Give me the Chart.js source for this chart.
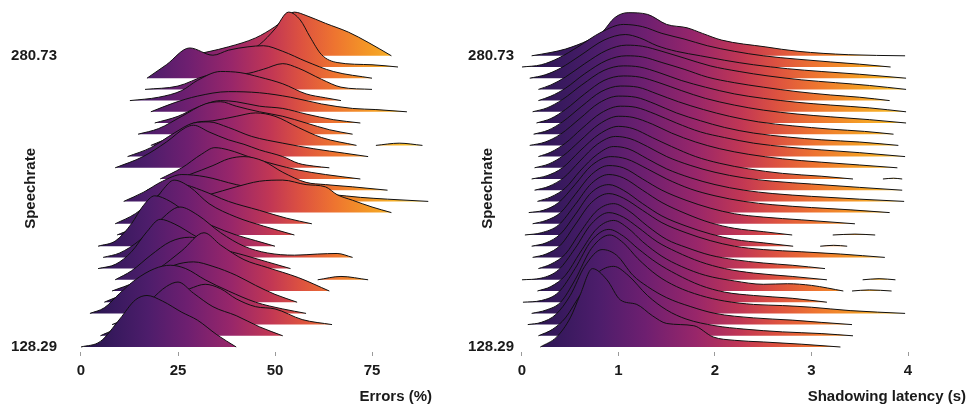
<!DOCTYPE html>
<html>
<head>
<meta charset="utf-8">
<script src="https://cdn.jsdelivr.net/npm/chart.js@4.4.1/dist/chart.umd.min.js"></script>
<style>
  html, body { margin: 0; padding: 0; background: #ffffff; }
  #wrap { position: relative; width: 969px; height: 409px; }
  #errorsChart { position: absolute; left: 0; top: 0; }
  #latencyChart { position: absolute; left: 440px; top: 0; }
</style>
</head>
<body>
<div id="wrap">
  <canvas id="errorsChart" width="440" height="409"></canvas>
  <canvas id="latencyChart" width="529" height="409"></canvas>
</div>
<script>
// speech rate labels shown at the bottom and top ridge
const speechLabels = ['128.29', '280.73'];

const errorTicks = [0, 25, 50, 75];
const latencyTicks = [0, 1, 2, 3, 4];

// Errors (%) ridges, bottom (slowest) to top. [value, density height in rows], null = gap
const errorRows = [
  [[0,0],[5,0.5],[10,2.5],[14,4.2],[17,4.6],[21,4.1],[26,3.1],[30,2.4],[35,1.1],[40,0]],
  [[5,0],[12,1.2],[18,3.2],[22,4.4],[25,4.8],[29,3.8],[34,2.6],[40,1.8],[46,0.8],[52,0]],
  [[8,0],[15,1.0],[22,2.4],[28,3.2],[32,3.6],[36,3.2],[40,2.3],[45,1.6],[50,1.4],[57,0.45],[64.7,0]],
  [[2.3,0],[6,0.5],[10,1.8],[14,3.0],[19,4.0],[23,4.3],[27,4.0],[32,3.0],[38,2.0],[45,1.0],[52,0.4],[58,0]],
  [[6,0],[12,0.9],[18,2.2],[24,3.3],[29,3.6],[34,3.2],[40,2.4],[45,1.5],[50,0.7],[55.7,0]],
  [[8,0],[14,0.8],[20,2.0],[26,3.6],[31.7,5.2],[36,4.1],[42,2.8],[48,2.1],[56,1.2],[64,0]],
  [[8.8,0],[13,0.8],[18,2.2],[23,3.4],[28,3.8],[34,3.2],[40,2.0],[46,1.0],[52,0.4],[56,0],[58,null],[61,0],[67,0.3],[74,0]],
  [[4.4,0],[9,0.4],[13,1.5],[17,3.3],[20.4,4.4],[24,4.0],[30,2.8],[36,1.8],[42,1.2],[48,0.6],[54,0]],
  [[5.7,0],[10,0.4],[15,1.5],[20,3.2],[25.5,4.5],[30,3.8],[36,2.2],[42,1.0],[48,0.4],[55,0.2],[61,0.3],[66,0.35],[70,0]],
  [[4.4,0],[9,0.5],[13,2.0],[16,3.6],[19,4.5],[23,4.0],[28,2.8],[34,1.8],[40,1.0],[45,0.5],[50,0]],
  [[9.3,0],[13,0.6],[17,2.0],[21,4.0],[24,4.9],[28,4.3],[33,2.8],[40,1.6],[47,0.8],[55,0]],
  [[8.8,0],[14,0.9],[19,2.3],[23,3.3],[26,3.5],[31,3.0],[38,2.0],[46,1.2],[53,0.5],[59.5,0]],
  [[16,0],[22,0.6],[28,1.2],[33,1.6],[40,2.3],[46,2.8],[52,2.9],[58,2.5],[63,2.3],[66,1.6],[70,1.1],[75,0.5],[80,0]],
  [[11,0],[16,0.8],[21,1.8],[26,2.4],[32,2.2],[40,1.5],[48,1.0],[56,0.8],[65,0.6],[72,0.36],[79,0.2],[89.5,0]],
  [[17,0],[22,0.7],[28,1.4],[34,2.2],[38,2.8],[42,3.0],[47,2.6],[52,1.6],[58,0.7],[63,0.5],[70,0.3],[79,0]],
  [[20.4,0],[26,1.0],[31,2.2],[34.5,2.8],[38,2.6],[44,1.9],[50,1.3],[56,0.8],[63,0.4],[72,0]],
  [[8.8,0],[16,1.0],[22,2.3],[27,3.6],[29,3.8],[33,3.2],[38,2.5],[42,2.1],[46,1.6],[52,1.0],[56,0.4],[60,0.15],[64,0]],
  [[12,0],[18,0.8],[24,2.1],[29,3.0],[33,3.1],[38,2.6],[44,1.8],[52,1.2],[60,0.7],[68,0.3],[74,0]],
  [[18,0],[24,0.9],[29,2.0],[34,2.2],[40,2.6],[45,2.9],[50,2.6],[56,1.6],[62,0.7],[71,0],[73,null],[76,0],[82,0.2],[88,0]],
  [[14.7,0],[20,0.5],[26,1.6],[32,2.7],[36,2.9],[40,2.5],[46,2.0],[52,1.6],[58,1.0],[64,0.4],[70,0]],
  [[19,0],[25,0.6],[30,1.4],[36,2.0],[40,1.9],[46,1.5],[52,1.3],[58,0.8],[65,0.3],[72,0]],
  [[18,0],[24,0.8],[30,1.4],[38,1.8],[46,1.7],[54,1.3],[62,0.7],[70,0.3],[76,0.2],[84,0]],
  [[12.6,0],[20,0.3],[26,0.9],[30,1.8],[36,2.6],[41,2.5],[46,2.1],[52,1.5],[58,0.6],[63,0.25],[67,0]],
  [[16.5,0],[25,0.3],[32,1.2],[37,1.5],[42,1.4],[47,1.8],[52,2.3],[56,1.9],[62,0.9],[67,0.2],[75,0]],
  [[17,0],[22,1.2],[28,2.7],[34,2.05],[38,2.5],[43,2.8],[47,2.9],[52,2.4],[58,1.5],[65,0.6],[75,0]],
  [[30,0],[40,0.8],[46,2.0],[50,3.4],[53.5,4.9],[56.5,4.2],[59,2.7],[62,1.1],[66,0.4],[75,0.2],[81.7,0]],
  [[28,0],[38,0.8],[45,1.6],[50,2.6],[55,3.9],[58,3.6],[63,2.9],[69,2.1],[74,1.2],[80,0]]
];

// Shadowing latency (s) ridges, bottom to top
const latencyRows = [
  [[0.19,0],[0.36,0.9],[0.5,2.6],[0.6,4.6],[0.73,7.0],[0.88,6.0],[1.02,4.2],[1.19,3.8],[1.35,2.8],[1.5,2.1],[1.78,1.9],[1.98,0.9],[2.2,0.6],[2.5,0.45],[2.9,0.25],[3.3,0]],
  [[0.17,0],[0.32,0.6],[0.45,1.6],[0.6,3.6],[0.78,5.6],[0.95,6.2],[1.1,5.4],[1.3,3.6],[1.5,2.3],[1.7,1.5],[2.0,0.9],[2.3,0.6],[2.7,0.35],[3.1,0.2],[3.43,0]],
  [[0.06,0],[0.2,0.2],[0.35,0.9],[0.5,2.6],[0.65,5.2],[0.83,6.7],[0.98,6.2],[1.15,4.4],[1.3,3.4],[1.5,2.4],[1.75,1.6],[2.0,1.0],[2.4,0.6],[2.8,0.4],[3.1,0.2],[3.42,0]],
  [[0.1,0],[0.25,0.3],[0.4,1.0],[0.55,3.0],[0.72,5.8],[0.91,7.0],[1.05,6.3],[1.2,4.9],[1.4,3.4],[1.6,2.4],[1.85,1.6],[2.1,1.1],[2.4,0.8],[2.7,0.7],[3.0,0.55],[3.4,0.25],[3.97,0]],
  [[0.01,0],[0.2,0.15],[0.38,0.9],[0.55,3.0],[0.72,5.5],[0.9,6.5],[1.05,5.9],[1.2,4.8],[1.4,3.5],[1.6,2.5],[1.85,1.5],[2.1,0.9],[2.4,0.6],[2.8,0.35],[3.16,0]],
  [[0.16,0],[0.3,0.4],[0.45,1.4],[0.6,3.4],[0.78,5.6],[0.95,6.3],[1.1,5.6],[1.25,4.4],[1.45,3.1],[1.65,2.2],[1.9,1.4],[2.2,0.9],[2.5,0.6],[2.75,0.65],[3.0,0.5],[3.33,0],[3.38,null],[3.42,0],[3.6,0.1],[3.83,0]],
  [[0,0],[0.2,0.15],[0.38,0.9],[0.55,2.8],[0.72,5.0],[0.9,6.0],[1.05,5.6],[1.2,4.7],[1.4,3.4],[1.6,2.5],[1.85,1.6],[2.1,1.0],[2.4,0.6],[2.8,0.3],[3.16,0],[3.3,null],[3.53,0],[3.7,0.1],[3.87,0]],
  [[0.17,0],[0.3,0.4],[0.45,1.3],[0.6,3.2],[0.78,5.2],[0.95,5.8],[1.1,5.2],[1.3,3.8],[1.5,2.6],[1.7,1.9],[1.95,1.2],[2.2,0.8],[2.5,0.5],[2.8,0.3],[3.14,0]],
  [[0.11,0],[0.25,0.3],[0.4,1.1],[0.55,2.9],[0.72,4.9],[0.9,5.7],[1.05,5.3],[1.25,4.2],[1.45,3.1],[1.7,2.2],[1.95,1.5],[2.2,1.0],[2.5,0.7],[2.9,0.5],[3.3,0.3],[3.76,0]],
  [[0.1,0],[0.25,0.3],[0.4,1.1],[0.55,2.8],[0.72,4.8],[0.9,5.5],[1.05,5.0],[1.25,3.8],[1.45,2.7],[1.7,1.8],[1.95,1.1],[2.2,0.6],[2.5,0.3],[2.81,0],[2.95,null],[3.09,0],[3.23,0.08],[3.37,0]],
  [[0.03,0],[0.2,0.2],[0.38,0.9],[0.55,2.7],[0.72,4.6],[0.9,5.4],[1.05,5.1],[1.25,4.0],[1.45,2.9],[1.7,1.9],[1.95,1.1],[2.2,0.6],[2.5,0.3],[2.8,0],[3.0,null],[3.22,0],[3.45,0.08],[3.66,0]],
  [[0.11,0],[0.25,0.3],[0.4,1.0],[0.55,2.6],[0.72,4.4],[0.9,5.2],[1.05,5.0],[1.25,4.0],[1.45,3.0],[1.7,2.1],[1.95,1.4],[2.2,0.9],[2.5,0.6],[2.9,0.35],[3.45,0]],
  [[0.07,0],[0.22,0.2],[0.38,0.9],[0.55,2.5],[0.72,4.2],[0.92,5.0],[1.08,4.8],[1.3,3.9],[1.5,3.0],[1.75,2.1],[2.0,1.5],[2.3,1.0],[2.6,0.7],[3.0,0.45],[3.4,0.25],[3.81,0]],
  [[0.16,0],[0.3,0.4],[0.45,1.2],[0.6,2.7],[0.78,4.2],[0.95,4.9],[1.1,4.7],[1.3,3.8],[1.5,2.9],[1.75,2.1],[2.0,1.5],[2.3,1.0],[2.6,0.7],[3.0,0.45],[3.5,0.2],[3.96,0]],
  [[0.13,0],[0.28,0.35],[0.43,1.1],[0.6,2.6],[0.78,4.1],[0.97,4.8],[1.12,4.6],[1.3,3.9],[1.5,3.0],[1.75,2.2],[2.0,1.6],[2.3,1.1],[2.6,0.8],[3.0,0.55],[3.5,0.25],[3.94,0]],
  [[0.1,0],[0.26,0.3],[0.42,1.0],[0.6,2.5],[0.8,4.0],[1.0,4.7],[1.15,4.5],[1.35,3.7],[1.55,2.9],[1.8,2.0],[2.05,1.4],[2.35,0.9],[2.7,0.5],[3.1,0.25],[3.43,0],[3.6,null],[3.74,0],[3.85,0.07],[3.94,0]],
  [[0.13,0],[0.28,0.35],[0.43,1.1],[0.6,2.4],[0.8,3.9],[1.0,4.6],[1.15,4.5],[1.35,3.9],[1.55,3.1],[1.8,2.3],[2.05,1.7],[2.35,1.2],[2.7,0.8],[3.1,0.5],[3.5,0.25],[3.89,0]],
  [[0.17,0],[0.3,0.4],[0.45,1.2],[0.62,2.5],[0.82,3.9],[1.02,4.5],[1.18,4.4],[1.38,3.8],[1.6,3.0],[1.85,2.2],[2.1,1.7],[2.4,1.2],[2.75,0.85],[3.1,0.6],[3.5,0.35],[3.97,0]],
  [[0.08,0],[0.24,0.3],[0.4,1.0],[0.6,2.4],[0.8,3.8],[1.0,4.4],[1.18,4.3],[1.38,3.7],[1.6,2.9],[1.85,2.2],[2.1,1.6],[2.4,1.1],[2.75,0.75],[3.1,0.5],[3.5,0.3],[3.9,0]],
  [[0.12,0],[0.27,0.35],[0.42,1.1],[0.62,2.5],[0.82,3.8],[1.02,4.3],[1.2,4.2],[1.4,3.6],[1.62,2.9],[1.88,2.2],[2.15,1.6],[2.45,1.1],[2.8,0.75],[3.2,0.45],[3.55,0.25],[3.85,0]],
  [[0.15,0],[0.3,0.4],[0.45,1.2],[0.65,2.6],[0.85,3.8],[1.05,4.2],[1.22,4.1],[1.42,3.6],[1.65,2.9],[1.9,2.2],[2.2,1.6],[2.5,1.15],[2.85,0.8],[3.2,0.55],[3.6,0.3],[3.98,0]],
  [[0.11,0],[0.26,0.35],[0.42,1.1],[0.62,2.4],[0.85,3.7],[1.05,4.1],[1.22,4.0],[1.42,3.5],[1.65,2.8],[1.9,2.2],[2.2,1.6],[2.5,1.2],[2.85,0.85],[3.2,0.6],[3.6,0.35],[3.98,0]],
  [[0.17,0],[0.3,0.4],[0.45,1.1],[0.65,2.4],[0.88,3.6],[1.08,4.0],[1.25,3.9],[1.45,3.4],[1.68,2.8],[1.92,2.1],[2.2,1.6],[2.5,1.2],[2.85,0.8],[3.2,0.5],[3.5,0.3],[3.81,0]],
  [[0.17,0],[0.3,0.4],[0.45,1.1],[0.65,2.3],[0.88,3.5],[1.08,3.95],[1.25,3.85],[1.45,3.4],[1.68,2.8],[1.95,2.1],[2.25,1.6],[2.55,1.2],[2.9,0.85],[3.25,0.6],[3.6,0.35],[3.98,0]],
  [[0.08,0],[0.24,0.3],[0.4,0.9],[0.6,2.0],[0.85,3.4],[1.07,3.9],[1.22,3.6],[1.4,2.9],[1.6,2.4],[1.85,2.0],[2.1,1.6],[2.4,1.2],[2.75,0.85],[3.1,0.6],[3.5,0.35],[3.98,0]],
  [[0.0,0],[0.2,0.2],[0.38,0.8],[0.58,1.8],[0.82,3.1],[1.05,3.8],[1.25,3.6],[1.45,3.0],[1.68,2.5],[1.92,1.9],[2.2,1.4],[2.5,1.0],[2.85,0.7],[3.2,0.45],[3.5,0.25],[3.82,0]],
  [[0.1,0],[0.3,0.3],[0.45,0.6],[0.69,1.4],[0.83,2.1],[0.96,3.4],[1.1,3.85],[1.3,3.7],[1.5,2.8],[1.71,2.5],[1.87,2.0],[2.07,1.4],[2.52,0.8],[2.86,0.4],[3.38,0.1],[3.97,0]]
];

// inferno-like colour ramp (position along x, colour)
const rampStops = [0, 0.1, 0.2, 0.32, 0.45, 0.57, 0.66, 0.76, 0.87, 1];
const rampColors = ['#221446', '#38195e', '#4d1d6b', '#6e1f70', '#98266a', '#c23754', '#dd5240', '#ee7430', '#f49b25', '#f8c42c'];

const textFont = "'Liberation Sans', Arial, sans-serif";

function rampFill(maxValue) {
    return function (context) {
        const chart = context.chart;
        if (!chart.chartArea) return '#6e1f70';
        const xScale = chart.scales.x;
        const g = chart.ctx.createLinearGradient(xScale.getPixelForValue(0), 0, xScale.getPixelForValue(maxValue), 0);
        rampStops.forEach((s, i) => g.addColorStop(s, rampColors[i]));
        return g;
    };
}

function buildRidges(canvasId, rows, ticks, xMin, xMax, rampMax, xTitle, opts) {
    const datasets = rows.map((row, i) => ({
        data: row.map(p => ({ x: p[0], y: p[1] === null ? null : i + p[1] })),
        borderColor: '#111111',
        borderWidth: 1,
        pointRadius: 0,
        fill: { value: i },
        backgroundColor: rampFill(rampMax),
        cubicInterpolationMode: 'monotone',
        spanGaps: false
    }));

    return new Chart(document.getElementById(canvasId), {
        type: 'line',
        data: { datasets: datasets },
        options: {
            responsive: false,
            animation: false,
            layout: { padding: { left: 0, right: opts.padRight, top: 4, bottom: 0 } },
            plugins: {
                legend: { display: false },
                tooltip: { enabled: false }
            },
            scales: {
                x: {
                    type: 'linear',
                    min: xMin,
                    max: xMax,
                    afterFit: function (scale) {
                        scale.height = 57;
                        scale.paddingLeft = 0;
                        scale.paddingRight = 0;
                    },
                    afterBuildTicks: function (scale) { scale.ticks = ticks.map(v => ({ value: v })); },
                    border: { display: false },
                    grid: { display: true, drawOnChartArea: false, drawTicks: true, tickLength: 4, color: '#9a9a9a' },
                    ticks: {
                        padding: 6,
                        color: '#1a1a1a',
                        font: { family: textFont, size: 15, weight: 'bold' },
                        callback: v => String(v)
                    },
                    title: {
                        display: true,
                        text: xTitle,
                        align: 'end',
                        color: '#1a1a1a',
                        font: { family: textFont, size: 15, weight: 'bold' },
                        padding: { top: 0, bottom: 3 }
                    }
                },
                y: {
                    type: 'linear',
                    min: -0.446,
                    max: 30.625,
                    afterFit: function (scale) {
                        scale.width = opts.yWidth;
                        scale.paddingTop = 0;
                        scale.paddingBottom = 0;
                    },
                    afterBuildTicks: function (scale) { scale.ticks = [{ value: 0 }, { value: 26 }]; },
                    border: { display: false },
                    grid: { display: false, drawTicks: false },
                    ticks: {
                        padding: opts.labelPad,
                        color: '#1a1a1a',
                        font: { family: textFont, size: 15, weight: 'bold' },
                        callback: v => (v === 0 ? speechLabels[0] : speechLabels[1])
                    },
                    title: {
                        display: true,
                        text: 'Speechrate     ',
                        color: '#1a1a1a',
                        font: { family: textFont, size: 15, weight: 'bold' },
                        padding: { top: opts.titlePad, bottom: 0 }
                    }
                }
            }
        }
    });
}

const errorsChart = buildRidges('errorsChart', errorRows, errorTicks, -1.546, 90.46, 86, 'Errors (%)',
    { padRight: 8, yWidth: 75, labelPad: 18, titlePad: 22 });

const latencyChart = buildRidges('latencyChart', latencyRows, latencyTicks, -0.062, 4.601, 4, 'Shadowing latency (s)',
    { padRight: 3, yWidth: 76, labelPad: 2, titlePad: 39 });
</script>
</body>
</html>
